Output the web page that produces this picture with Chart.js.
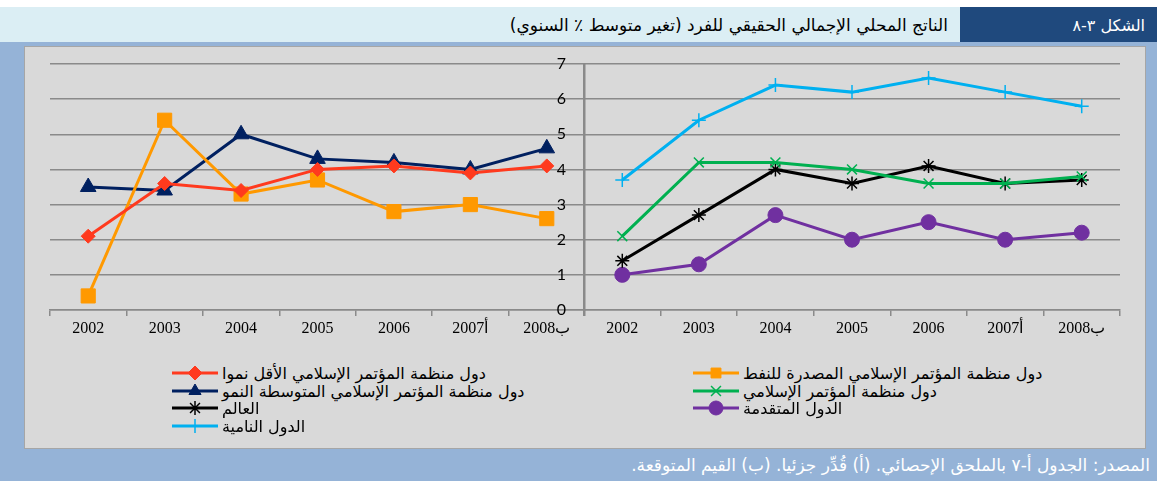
<!DOCTYPE html>
<html lang="ar">
<head>
<meta charset="utf-8">
<script src="https://cdn.jsdelivr.net/npm/chart.js@4.4.0/dist/chart.umd.min.js"></script>
<style>
  body { margin: 0; width: 1157px; height: 481px; background: #fff; position: relative; overflow: hidden; font-family: "DejaVu Sans", sans-serif; }
  #head { position: absolute; left: 0; top: 7px; width: 1157px; height: 35px; background: #dbeef4; }
  #figno { position: absolute; left: 960px; top: 7px; width: 197px; height: 35px; background: #1f497d; color: #fff;
           font-size: 16px; line-height: 37px; text-align: right; padding-right: 12px; box-sizing: border-box; direction: rtl; }
  #title { position: absolute; right: 209px; top: 7px; height: 35px; line-height: 37px; font-size: 17px; direction: rtl; color: #000; white-space: nowrap; }
  #frame { position: absolute; left: 0; top: 42px; width: 1157px; height: 439px; background: #95b3d7; }
  #panel { position: absolute; left: 24px; top: 46px; width: 1120px; height: 401px; background: #d9d9d9; border: 1px solid #a6a6a6; }
  #foot { position: absolute; right: 7px; top: 453px; height: 24px; line-height: 24px; font-size: 17px; color: #fff; direction: rtl; white-space: nowrap; }
  canvas.chart { position: absolute; top: 50px; }
  #cLeft { left: 30px; }
  #cRight { left: 500px; }
  .leg { position: absolute; height: 18px; display: flex; align-items: center; }
  .leg span { direction: rtl; font-size: 16px; color: #000; white-space: nowrap; margin-left: 4px; }
</style>
</head>
<body>
<div id="head"></div>
<div id="figno">الشكل ٣-٨</div>
<div id="title">الناتج المحلي الإجمالي الحقيقي للفرد (تغير متوسط ٪ السنوي)</div>
<div id="frame"></div>
<div id="panel"></div>
<canvas id="cLeft" class="chart" width="570" height="290"></canvas>
<canvas id="cRight" class="chart" width="640" height="290"></canvas>
<div id="legend"></div>
<div id="foot">المصدر: الجدول أ-٧ بالملحق الإحصائي. (أ) قُدِّر جزئيا. (ب) القيم المتوقعة.</div>

<script>
// السنوات
const years = ['2002', '2003', '2004', '2005', '2006', '2007أ', '2008ب'];
const yTicks = [0, 1, 2, 3, 4, 5, 6, 7];

// اللوحة اليسرى
const oicLdc = [2.1, 3.6, 3.4, 4.0, 4.1, 3.9, 4.1];
const oicFuel = [0.4, 5.4, 3.3, 3.7, 2.8, 3.0, 2.6];
const oicMiddle = [3.5, 3.4, 5.0, 4.3, 4.2, 4.0, 4.6];

// اللوحة اليمنى
const oicAll = [2.1, 4.2, 4.2, 4.0, 3.6, 3.6, 3.8];
const world = [1.4, 2.7, 4.0, 3.6, 4.1, 3.6, 3.7];
const developed = [1.0, 1.3, 2.7, 2.0, 2.5, 2.0, 2.2];
const developing = [3.7, 5.4, 6.4, 6.2, 6.6, 6.2, 5.8];

const GRID = '#8a8a8a';

function series(label, data, color, pointStyle, radius, bw) {
    return {
        label, data,
        borderColor: color, backgroundColor: color,
        borderWidth: 3, tension: 0, fill: false,
        pointStyle, pointRadius: radius, pointHoverRadius: radius,
        pointBorderColor: color, pointBackgroundColor: color,
        pointBorderWidth: bw
    };
}

const leftSets = [
    series('دول منظمة المؤتمر الإسلامي الأقل نموا', oicLdc, '#ff3a1e', 'rectRot', 7, 1),
    series('دول منظمة المؤتمر الإسلامي المصدرة للنفط', oicFuel, '#ff9900', 'rect', 10, 1),
    series('دول منظمة المؤتمر الإسلامي المتوسطة النمو', oicMiddle, '#002060', 'triangle', 9, 1)
];
const rightSets = [
    series('دول منظمة المؤتمر الإسلامي', oicAll, '#00b050', 'crossRot', 7, 1.5),
    series('العالم', world, '#000000', 'star', 7, 1.5),
    series('الدول المتقدمة', developed, '#7030a0', 'circle', 7.5, 1),
    series('الدول النامية', developing, '#00b0f0', 'cross', 7, 1.5)
];

function buildChart(canvasId, datasets, side) {
    const isLeft = side === 'left';
    return new Chart(document.getElementById(canvasId), {
        type: 'line',
        data: { labels: years, datasets },
        options: {
            responsive: false,
            animation: false,
            layout: {
                autoPadding: false,
                padding: isLeft ? { left: 20, right: 15, top: 14, bottom: 0 } : { left: 0, right: 20, top: 14, bottom: 0 }
            },
            plugins: { legend: { display: false }, tooltip: { enabled: false } },
            scales: {
                x: {
                    type: 'category',
                    offset: true,
                    grid: { offset: true, drawOnChartArea: false, drawTicks: true, tickLength: 6, color: GRID, lineWidth: 1.5 },
                    border: { display: true, color: GRID, width: 1.5 },
                    ticks: { color: '#000', font: { family: 'Liberation Serif', size: 16 }, padding: 3, maxRotation: 0, autoSkip: false },
                    afterFit: s => { s.height = 30; s.paddingLeft = 0; s.paddingRight = 0; }
                },
                y: {
                    position: isLeft ? 'right' : 'left',
                    min: 0, max: 7,
                    afterBuildTicks: s => { s.ticks = yTicks.map(v => ({ value: v })); },
                    grid: { color: GRID, lineWidth: 1.5, drawTicks: false },
                    border: { display: true, color: GRID, width: 1.5 },
                    ticks: {
                        display: !isLeft, padding: 18,
                        color: '#000', font: { family: 'Lato', size: 16 }
                    },
                    afterFit: s => {
                        s.width = isLeft ? 0 : 84;
                        s.paddingTop = 0;
                        s.paddingBottom = 0;
                    }
                }
            }
        }
    });
}

buildChart('cLeft', leftSets, 'left');
buildChart('cRight', rightSets, 'right');

// وسيلة الإيضاح
const legendItems = [
    { ds: leftSets[0], x: 172, y: 364 },
    { ds: leftSets[1], x: 693, y: 364 },
    { ds: leftSets[2], x: 172, y: 382 },
    { ds: rightSets[0], x: 693, y: 382 },
    { ds: rightSets[1], x: 172, y: 399 },
    { ds: rightSets[2], x: 693, y: 399 },
    { ds: rightSets[3], x: 172, y: 417 }
];
const legendBox = document.getElementById('legend');
legendItems.forEach(item => {
    const row = document.createElement('div');
    row.className = 'leg';
    row.style.left = item.x + 'px';
    row.style.top = item.y + 'px';
    const c = document.createElement('canvas');
    c.width = 46; c.height = 18;
    const ctx = c.getContext('2d');
    ctx.strokeStyle = item.ds.borderColor;
    ctx.fillStyle = item.ds.borderColor;
    ctx.lineWidth = 3;
    ctx.beginPath(); ctx.moveTo(0, 9); ctx.lineTo(46, 9); ctx.stroke();
    ctx.lineWidth = item.ds.pointBorderWidth;
    Chart.helpers.drawPoint(ctx, {
        pointStyle: item.ds.pointStyle,
        radius: Math.min(item.ds.pointRadius, 7),
        rotation: 0,
        borderWidth: item.ds.pointBorderWidth
    }, 23, 9);
    const t = document.createElement('span');
    t.textContent = item.ds.label;
    row.appendChild(c);
    row.appendChild(t);
    legendBox.appendChild(row);
});
</script>
</body>
</html>
